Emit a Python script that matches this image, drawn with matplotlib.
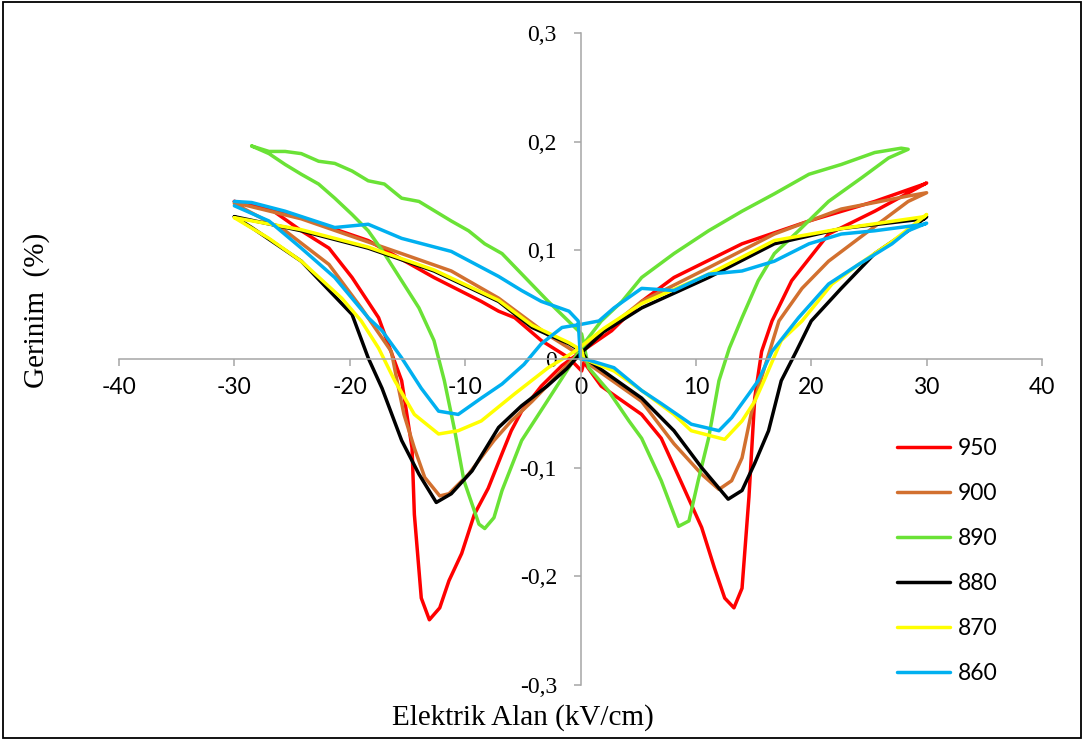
import matplotlib
matplotlib.use("Agg")
import matplotlib.pyplot as plt
from matplotlib.patches import Rectangle
from matplotlib.ticker import FuncFormatter

# butterfly loops: (E kV/cm, strain %), one closed loop each
x950 = [-30.0, -24.2, -18.4, -12.7, -8.6, -7.1, -5.7, -3.4, -1.0, 0.1, 0.3, 1.8, 5.3, 7.0, 8.8, 10.5, 11.6, 12.5,
        13.3, 14.0, 14.6, 15.1, 15.7, 16.6, 18.3, 21.5, 25.5, 30.0,
        29.8, 25.5, 19.8, 14.0, 8.1, 5.3, 2.7, 0.1, -1.6, -3.4, -5.1, -6.0, -6.8, -8.0, -9.2, -10.3, -11.4, -12.2,
        -13.1, -13.8, -14.4, -14.6, -15.5, -17.5, -19.8, -21.8, -24.2, -27.0, -30.0]
y950 = [0.145, 0.130, 0.109, 0.075, 0.053, 0.044, 0.038, 0.017, 0.001, -0.011, -0.003, -0.025, -0.051, -0.073,
        -0.115, -0.155, -0.192, -0.220, -0.229, -0.211, -0.127, -0.036, 0.007, 0.035, 0.072, 0.115, 0.136, 0.162,
        0.161, 0.145, 0.127, 0.106, 0.075, 0.053, 0.026, 0.007, -0.006, -0.025, -0.048, -0.066, -0.087, -0.119,
        -0.143, -0.179, -0.204, -0.229, -0.240, -0.220, -0.143, -0.082, -0.020, 0.038, 0.075, 0.102, 0.118, 0.139,
        0.145]

x900 = [-30.0, -24.2, -15.5, -11.2, -7.1, -2.8, -1.0, 0.0, 0.5, 5.3, 8.1, 10.5, 12.0, 13.1, 14.0, 14.8, 15.4,
        17.2, 19.2, 21.5, 25.0, 28.4, 30.0,
        28.4, 22.6, 16.8, 11.1, 5.3, 2.0, 0.0, -2.1, -4.2, -6.0, -7.5, -9.7, -11.4, -12.2, -13.5, -14.4, -15.3,
        -15.9, -16.4, -19.0, -21.8, -25.6, -30.0]
y900 = [0.144, 0.129, 0.097, 0.081, 0.056, 0.022, 0.010, 0.003, -0.003, -0.039, -0.078, -0.106, -0.120, -0.112,
        -0.091, -0.050, -0.027, 0.035, 0.065, 0.090, 0.118, 0.145, 0.153,
        0.150, 0.138, 0.115, 0.084, 0.053, 0.025, 0.007, -0.016, -0.039, -0.057, -0.075, -0.106, -0.124, -0.126,
        -0.109, -0.082, -0.051, -0.020, 0.007, 0.047, 0.087, 0.118, 0.143]

x890 = [-28.5, -27.0, -25.6, -24.2, -22.7, -21.3, -19.8, -18.4, -17.0, -15.5, -14.0, -12.6, -11.2, -9.7, -8.3,
        -6.8, -4.8, -2.8, 0.1, 0.7, 2.4, 4.2, 5.3, 7.0, 8.5, 9.4, 10.2, 11.1, 12.0, 12.9, 14.0,
        15.4, 16.8, 18.9, 21.5, 24.4, 26.7, 28.4,
        27.8, 25.5, 22.6, 19.8, 16.8, 14.0, 11.1, 8.1, 5.3, 3.6, 1.8, 0.5, -1.2, -2.9, -5.1, -6.8, -7.5, -8.3,
        -8.8, -10.1, -10.9, -11.8, -12.7, -14.0, -15.5, -17.0, -18.4, -19.8, -21.3, -22.7, -24.2, -25.6, -27.0,
        -28.5]
y890 = [0.196, 0.191, 0.191, 0.189, 0.182, 0.180, 0.173, 0.164, 0.161, 0.148, 0.145, 0.136, 0.127, 0.118, 0.106,
        0.097, 0.075, 0.053, 0.023, -0.008, -0.029, -0.057, -0.073, -0.112, -0.154, -0.149,
        -0.112, -0.073, -0.020, 0.010, 0.038, 0.072, 0.097, 0.118, 0.145, 0.167, 0.185, 0.193,
        0.194, 0.190, 0.179, 0.170, 0.152, 0.136, 0.118, 0.097, 0.075, 0.053, 0.035, 0.017, -0.011, -0.039,
        -0.075, -0.121, -0.146, -0.156, -0.152, -0.112, -0.066, -0.020, 0.017, 0.047, 0.072, 0.097, 0.118, 0.133,
        0.148, 0.161, 0.170, 0.179, 0.189, 0.196]

x880 = [-30.0, -24.2, -18.4, -12.7, -7.1, -4.2, -1.0, 0.1, 0.5, 5.3, 8.1, 10.5, 12.8, 14.0, 15.1, 16.3, 17.4,
        18.7, 20.0, 22.6, 25.5, 28.4, 30.0,
        29.8, 22.6, 16.8, 11.1, 5.3, 2.0, 0.0, -1.2, -2.9, -5.1, -7.1, -9.4, -11.2, -12.5, -14.0, -15.5, -17.2,
        -18.4, -19.8, -24.2, -28.5, -30.0]
y880 = [0.131, 0.118, 0.102, 0.081, 0.053, 0.029, 0.014, 0.007, 0.000, -0.036, -0.066, -0.100, -0.129, -0.121,
        -0.096, -0.066, -0.020, 0.007, 0.035, 0.065, 0.097, 0.118, 0.131,
        0.129, 0.120, 0.106, 0.075, 0.047, 0.025, 0.005, -0.009, -0.025, -0.043, -0.063, -0.103, -0.124, -0.132,
        -0.106, -0.075, -0.027, 0.001, 0.041, 0.090, 0.121, 0.131]

x870 = [-30.0, -24.2, -18.4, -12.7, -7.1, -4.2, -1.0, 0.1, 0.3, 2.9, 5.3, 8.1, 9.6, 12.5, 14.0, 15.1, 15.9,
        17.4, 19.2, 21.8, 24.1, 27.0, 29.3, 30.0,
        29.8, 22.6, 16.8, 11.1, 5.3, 2.0, -0.5, -2.8, -5.7, -8.6, -10.6, -12.3, -14.4, -16.1, -17.5, -19.0,
        -20.7, -24.2, -27.0, -30.0]
y870 = [0.130, 0.119, 0.103, 0.082, 0.054, 0.031, 0.015, 0.008, 0.000, -0.011, -0.029, -0.051, -0.066, -0.074,
        -0.057, -0.039, -0.020, 0.017, 0.035, 0.069, 0.087, 0.108, 0.127, 0.133,
        0.131, 0.120, 0.109, 0.078, 0.051, 0.028, 0.007, -0.008, -0.032, -0.057, -0.066, -0.069, -0.051, -0.020,
        0.010, 0.035, 0.056, 0.090, 0.111, 0.130]

x860 = [-30.0, -28.5, -25.6, -21.3, -18.4, -15.5, -11.2, -7.1, -5.1, -3.4, -1.0, -0.2, 0.0, 0.7, 2.9, 5.3, 7.0,
        9.6, 12.0, 13.1, 14.6, 15.4, 16.6, 18.9, 21.5, 24.1, 27.0, 28.4, 30.0,
        29.8, 25.5, 22.6, 19.8, 16.8, 14.0, 11.1, 8.1, 5.3, 2.9, 1.6, 0.1, -1.6, -3.4, -4.9, -6.8, -8.6, -10.6,
        -12.3, -13.8, -15.5, -17.2, -18.4, -21.3, -24.2, -27.0, -30.0]
y860 = [0.145, 0.144, 0.136, 0.121, 0.124, 0.111, 0.099, 0.076, 0.063, 0.053, 0.044, 0.035, 0.000, -0.001,
        -0.008, -0.029, -0.041, -0.060, -0.066, -0.054, -0.032, -0.020, 0.007, 0.038, 0.069, 0.087, 0.106, 0.118,
        0.125,
        0.124, 0.118, 0.115, 0.106, 0.090, 0.081, 0.078, 0.063, 0.065, 0.047, 0.035, 0.032, 0.029, 0.014, -0.005,
        -0.023, -0.036, -0.051, -0.048, -0.027, 0.001, 0.026, 0.038, 0.075, 0.102, 0.127, 0.141]

labels = ["950", "900", "890", "880", "870", "860"]
colors = ["#ff0000", "#d2702f", "#6ae236", "#000000", "#ffff00", "#00b0f0"]
xticks = [-40, -30, -20, -10, 0, 10, 20, 30, 40]
yticks = [-0.3, -0.2, -0.1, 0, 0.1, 0.2, 0.3]

series = [(x950, y950), (x900, y900), (x890, y890), (x880, y880), (x870, y870), (x860, y860)]

fig = plt.figure(figsize=(10.84, 7.42), dpi=100)
ax = fig.add_axes([119 / 1084, 1 - 685 / 742, 923 / 1084, 652 / 742])

for (xs, ys), lab, c in zip(series, labels, colors):
    ax.plot(xs, ys, color=c, lw=2.5, label=lab, solid_joinstyle="round", solid_capstyle="round")

ax.set_xlim(-40, 40)
ax.set_ylim(-0.3, 0.3)
ax.set_xticks(xticks)
ax.set_yticks(yticks)

for s in ["top", "right"]:
    ax.spines[s].set_visible(False)
for s in ["left", "bottom"]:
    ax.spines[s].set_position(("data", 0))
    ax.spines[s].set_color("#a6a6a6")
    ax.spines[s].set_linewidth(1.1)

ax.tick_params(axis="both", direction="out", length=5, width=1.1, color="#a6a6a6")
ax.tick_params(axis="x", pad=8)
ax.tick_params(axis="y", pad=12)
ax.xaxis.set_major_formatter(FuncFormatter(lambda v, p: "%g" % v))
ax.yaxis.set_major_formatter(FuncFormatter(lambda v, p: ("%g" % round(v, 1)).replace(".", ",")))
for t in ax.get_xticklabels():
    t.set_fontfamily("Lato")
    t.set_fontsize(16.5)
for t in ax.get_yticklabels():
    t.set_fontfamily("Liberation Serif")
    t.set_fontsize(17)

fig.text(523 / 1084, 1 - 718 / 742, "Elektrik Alan (kV/cm)", family="Liberation Serif", fontsize=21,
         ha="center", va="center")
fig.text(37 / 1084, 1 - 310 / 742, "Gerinim  (%)", family="Liberation Serif", fontsize=21,
         ha="center", va="center", rotation=90)

leg = ax.legend(loc="upper left", bbox_to_anchor=(897 / 1084, 1 - 438 / 742), bbox_transform=fig.transFigure,
                frameon=False, prop={"family": "Lato", "size": 16.5}, handlelength=2.3, handletextpad=0.35,
                labelspacing=1.05, borderpad=0, borderaxespad=0)

fig.patches.append(Rectangle((3 / 1084, 4 / 742), 1078 / 1084, 736 / 742, transform=fig.transFigure,
                             fill=False, edgecolor="black", lw=1.3))

fig.savefig("out.png", dpi=100)
